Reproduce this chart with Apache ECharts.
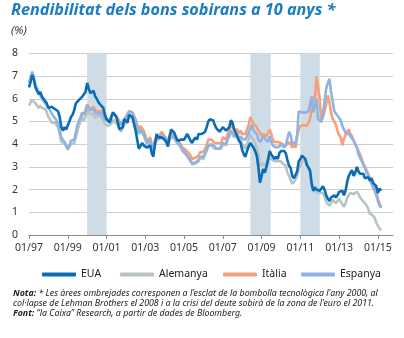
<!DOCTYPE html>
<html><head><meta charset="utf-8">
<script src="https://cdn.jsdelivr.net/npm/echarts@6/dist/echarts.min.js"></script>
<style>html,body{margin:0;padding:0;background:#fff}#c{width:404px;height:338px}</style>
</head><body><div id="c"></div>
<script>
// ---- data (monthly, first value = Jan 1997 unless stated) ----
const startYear = 1997;
const tickYears = [1997, 1999, 2001, 2003, 2005, 2007, 2009, 2011, 2013, 2015];
const tickLabels = ['01/97', '01/99', '01/01', '01/03', '01/05', '01/07', '01/09', '01/11', '01/13', '01/15'];
const shadeStart = [2000.0, 2008.42, 2011.0];
const shadeEnd = [2001.0, 2009.47, 2012.0];
const seriesNames = ['EUA', 'Alemanya', 'Itàlia', 'Espanya'];

const eua = [
 6.5,6.75,7.05,6.85,6.5,6.45,6.2,6.3,6.1,6.0,5.9,5.8,
 5.6,5.6,5.65,5.6,5.55,5.5,5.45,5.2,4.75,4.6,4.75,4.65,
 4.7,5.0,5.2,5.3,5.5,5.8,5.85,5.95,5.95,6.1,6.1,6.3,
 6.7,6.45,6.25,6.3,6.35,6.1,6.0,5.85,5.75,5.7,5.6,5.3,
 5.1,5.05,4.95,5.2,5.4,5.35,5.2,4.95,4.65,4.6,4.75,5.1,
 5.05,4.95,5.3,5.35,5.2,4.9,4.6,4.2,3.8,3.85,4.05,3.95,
 3.95,3.85,3.8,3.95,3.6,3.45,4.0,4.45,4.3,4.35,4.3,4.3,
 4.2,4.1,3.9,4.35,4.65,4.65,4.5,4.3,4.15,4.1,4.2,4.2,
 4.2,4.2,4.45,4.3,4.15,4.05,4.2,4.3,4.2,4.45,4.5,4.45,
 4.45,4.55,4.75,5.0,5.1,5.1,5.05,4.85,4.7,4.7,4.55,4.6,
 4.75,4.7,4.6,4.65,4.75,5.05,4.95,4.65,4.5,4.5,4.15,4.05,
 3.75,3.55,3.45,3.7,3.9,4.05,3.95,3.85,3.7,3.5,3.0,2.3,
 2.6,2.9,2.75,3.0,3.3,3.7,3.55,3.55,3.35,3.45,3.35,3.6,
 3.7,3.65,3.7,3.6,3.3,3.05,2.95,2.6,2.5,2.55,2.8,3.25,
 3.35,3.5,3.45,3.35,3.1,3.05,2.85,2.25,1.95,2.1,2.0,1.95,
 1.95,1.95,2.15,2.0,1.75,1.6,1.5,1.65,1.7,1.75,1.65,1.75,
 1.9,1.95,1.95,1.75,1.95,2.35,2.6,2.75,2.85,2.6,2.75,3.0,
 2.8,2.7,2.75,2.7,2.5,2.55,2.55,2.4,2.5,2.3,2.25,2.15,
 1.85,2.05,1.95
];
const alemanya = [
 5.7,5.85,5.95,5.9,5.8,5.75,5.6,5.7,5.6,5.6,5.55,5.4,
 5.2,5.1,4.95,4.95,4.95,4.85,4.75,4.45,4.1,4.05,4.05,3.9,
 3.75,3.8,4.0,3.95,4.05,4.3,4.6,4.85,5.0,5.2,5.05,5.2,
 5.5,5.4,5.3,5.3,5.35,5.15,5.25,5.2,5.25,5.15,5.05,4.9,
 4.85,4.8,4.75,4.9,5.1,5.0,5.0,4.85,4.8,4.55,4.55,4.85,
 4.95,4.95,5.2,5.15,5.15,5.0,4.85,4.6,4.45,4.6,4.6,4.4,
 4.2,4.0,4.05,4.15,3.85,3.7,4.05,4.15,4.2,4.25,4.35,4.3,
 4.2,4.1,3.95,4.15,4.3,4.3,4.25,4.1,4.05,3.95,3.85,3.7,
 3.65,3.55,3.45,3.4,3.25,3.1,3.05,3.15,3.15,3.25,3.4,3.4,
 3.35,3.55,3.7,3.9,3.95,3.95,3.95,3.8,3.75,3.8,3.75,3.8,
 4.0,4.0,3.95,4.2,4.35,4.55,4.5,4.3,4.3,4.35,4.15,4.25,
 4.0,3.9,3.8,4.0,4.2,4.45,4.4,4.15,4.05,3.85,3.55,3.05,
 3.1,3.15,3.05,3.15,3.4,3.45,3.35,3.3,3.25,3.25,3.25,3.3,
 3.25,3.15,3.1,3.05,2.75,2.6,2.65,2.25,2.3,2.45,2.6,2.95,
 3.05,3.25,3.25,3.35,3.1,2.95,2.75,2.3,1.9,2.05,1.9,1.95,
 1.85,1.85,1.85,1.7,1.45,1.45,1.3,1.4,1.55,1.5,1.4,1.35,
 1.6,1.6,1.35,1.25,1.4,1.65,1.6,1.85,1.9,1.8,1.75,1.9,
 1.8,1.65,1.55,1.5,1.4,1.3,1.15,0.95,0.95,0.85,0.75,0.55,
 0.4,0.3,0.2
];
// Itàlia starts September 1999
const italiaFirstMonth = 32;
const italia = [
 5.2,5.4,5.3,5.5,
 5.75,5.7,5.55,5.6,5.65,5.5,5.5,5.45,5.5,5.45,5.35,5.2,
 5.1,5.05,5.05,5.25,5.4,5.3,5.3,5.15,5.1,4.85,4.8,5.1,
 5.2,5.2,5.45,5.4,5.4,5.25,5.1,4.85,4.65,4.8,4.8,4.6,
 4.4,4.15,4.2,4.3,4.0,3.85,4.2,4.3,4.35,4.4,4.55,4.45,
 4.35,4.25,4.1,4.3,4.45,4.5,4.45,4.3,4.2,4.1,4.0,3.85,
 3.85,3.75,3.7,3.6,3.5,3.35,3.3,3.4,3.4,3.5,3.65,3.65,
 3.65,3.8,3.95,4.2,4.25,4.2,4.25,4.05,4.0,4.05,4.0,4.05,
 4.3,4.3,4.2,4.45,4.6,4.85,4.8,4.65,4.65,4.65,4.45,4.6,
 4.45,4.45,4.45,4.65,4.85,5.2,5.15,4.9,4.95,4.75,4.75,4.5,
 4.35,4.45,4.4,4.35,4.4,4.65,4.45,4.2,4.1,4.05,4.1,4.1,
 4.05,4.05,3.95,4.0,4.0,4.1,4.0,3.85,3.95,3.85,4.3,4.65,
 4.8,4.85,4.85,4.85,4.8,4.95,5.1,5.6,6.1,5.9,7.0,7.0,
 6.0,5.05,5.2,5.45,5.75,6.15,5.85,5.4,5.13,5.0,4.85,4.6,
 4.4,4.3,3.95,4.25,4.4,4.55,4.65,4.45,4.35,4.15,4.0,3.85,
 3.7,3.55,3.35,3.15,3.0,2.85,2.7,2.5,2.35,2.25,2.1,1.9,
 1.6,1.4,1.2
];
const espanya = [
 6.7,6.95,7.2,6.95,6.6,6.45,6.3,6.15,6.0,5.9,5.8,5.7,
 5.6,5.5,5.35,5.25,5.2,5.05,4.9,4.6,4.3,4.2,4.1,3.95,
 3.8,3.95,4.15,4.1,4.2,4.5,4.85,5.05,5.2,5.4,5.3,5.45,
 5.7,5.6,5.5,5.5,5.55,5.4,5.45,5.35,5.4,5.35,5.25,5.1,
 5.15,5.0,4.95,5.2,5.4,5.35,5.25,5.05,5.0,4.85,4.8,5.1,
 5.2,5.2,5.45,5.4,5.4,5.2,5.0,4.75,4.5,4.65,4.65,4.45,
 4.25,4.05,4.1,4.2,3.9,3.8,4.1,4.2,4.25,4.3,4.4,4.35,
 4.3,4.2,4.0,4.2,4.35,4.4,4.35,4.2,4.1,4.0,3.9,3.75,
 3.7,3.6,3.5,3.45,3.3,3.15,3.1,3.2,3.2,3.3,3.45,3.45,
 3.45,3.6,3.75,3.95,4.0,4.0,4.05,3.9,3.8,3.85,3.8,3.85,
 4.05,4.05,4.0,4.25,4.4,4.6,4.55,4.4,4.35,4.4,4.25,4.35,
 4.25,4.25,4.2,4.35,4.5,4.7,4.85,4.6,4.55,4.45,4.2,4.1,
 4.2,4.35,4.25,4.2,4.1,4.35,4.1,3.95,3.9,3.85,3.85,3.9,
 4.0,4.0,3.85,3.95,4.0,4.55,4.4,4.0,4.1,4.0,4.4,5.45,
 5.4,5.4,5.35,5.4,5.4,5.45,5.4,6.1,5.4,5.7,6.0,5.1,
 5.05,4.98,5.3,5.9,6.45,6.7,6.88,6.3,5.9,5.45,5.35,5.27,
 5.15,5.05,4.8,4.65,4.5,4.5,4.45,4.35,4.3,4.15,4.0,3.85,
 3.55,3.4,3.25,3.1,2.95,2.75,2.6,2.4,2.25,2.1,1.95,1.75,
 1.5,1.3,1.2
];

// ---- chart ----
function toPoints(values, firstMonth) {
  return values.map((v, i) => [startYear + (firstMonth + i) / 12, v]);
}
const colors = { 'EUA': '#0a6cb5', 'Alemanya': '#b8c3c5', 'Itàlia': '#f5a07a', 'Espanya': '#8fb3e2' };
const FONT = "'Noto Sans', sans-serif";
const chart = echarts.init(document.getElementById('c'), null, { renderer: 'canvas' });

function lineSeries(name, values, firstMonth, z) {
  return {
    name, type: 'line', data: toPoints(values, firstMonth), showSymbol: false, z,
    lineStyle: { width: 2.6, color: colors[name] }, itemStyle: { color: colors[name] },
    emphasis: { disabled: true }, silent: true
  };
}
const legendLefts = [37, 115, 218, 296];

chart.setOption({
  animation: false,
  title: {
    text: 'Rendibilitat dels bons sobirans a 10 anys *', left: 11, top: 2, padding: 0,
    textStyle: { fontSize: 16.2, fontStyle: 'italic', fontWeight: 'bold', color: '#1b7cc2', fontFamily: FONT }
  },
  grid: { left: 29, right: 11, top: 53.4, bottom: 103, containLabel: false },
  legend: seriesNames.map((n, i) => ({
    data: [n], left: legendLefts[i], top: 264, icon: 'roundRect', itemWidth: 34, itemHeight: 4,
    textStyle: { fontSize: 10.5, color: '#222', fontFamily: FONT }, selectedMode: false
  })),
  xAxis: {
    type: 'value', min: startYear, max: 2015.78, interval: 2,
    splitLine: { show: false },
    axisLine: { lineStyle: { color: '#8c8c8c', width: 1 } },
    axisTick: { length: 4, lineStyle: { color: '#8c8c8c' } },
    axisLabel: {
      margin: 8, fontSize: 10.5, color: '#333', fontFamily: FONT, showMaxLabel: false,
      formatter: v => { const k = tickYears.findIndex(y => Math.abs(y - v) < 1e-6); return k >= 0 ? tickLabels[k] : ''; }
    }
  },
  yAxis: {
    type: 'value', min: 0, max: 8, interval: 1,
    axisLine: { show: false }, axisTick: { show: false },
    splitLine: { lineStyle: { color: '#cfcfcf', width: 1 } },
    axisLabel: { margin: 11, fontSize: 10.5, color: '#333', fontFamily: FONT }
  },
  graphic: [
    { type: 'text', left: 11, top: 25, style: { text: '(%)', font: "italic 11.5px " + FONT, fill: '#333' } },
    { type: 'text', left: 13, top: 289, style: {
      text: "{b|Nota:} * Les àrees ombrejades corresponen a l'esclat de la bombolla tecnològica l'any 2000, al\ncol·lapse de Lehman Brothers el 2008 i a la crisi del deute sobirà de la zona de l'euro el 2011.\n{b|Font:} \u201cla Caixa\u201d Research, a partir de dades de Bloomberg.",
      font: "italic 8.8px " + FONT, fill: '#222', lineHeight: 9.7,
      rich: { b: { fontWeight: 'bold', fontStyle: 'italic', fontSize: 8.8, fontFamily: FONT, fill: '#222', lineHeight: 9.7 } }
    } }
  ],
  series: [
    { name: 'shade', type: 'line', data: [], silent: true, z: 1,
      markArea: { silent: true, itemStyle: { color: '#cddce7' },
        data: shadeStart.map((s, i) => [{ xAxis: s }, { xAxis: shadeEnd[i] }]) } },
    lineSeries('EUA', eua, 0, 6),
    lineSeries('Alemanya', alemanya, 0, 3),
    lineSeries('Itàlia', italia, italiaFirstMonth, 4),
    lineSeries('Espanya', espanya, 0, 5)
  ]
});
</script>
</body></html>
